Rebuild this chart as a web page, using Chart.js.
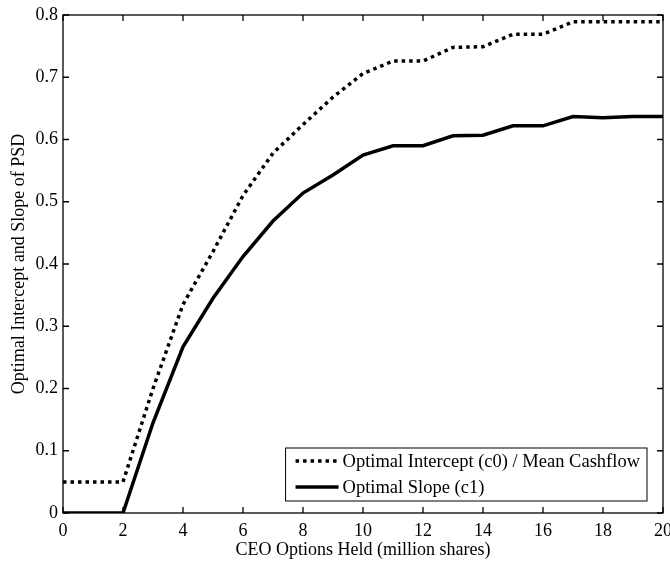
<!DOCTYPE html>
<html>
<head>
<meta charset="utf-8">
<script src="https://cdn.jsdelivr.net/npm/chart.js@4/dist/chart.umd.min.js"></script>
<style>
  html, body { margin: 0; padding: 0; background: #fff; }
  #wrap { width: 670px; height: 565px; }
</style>
</head>
<body>
<div id="wrap"><canvas id="psdChart" width="670" height="565"></canvas></div>
<script>
// options held, million shares
const optionsHeld = [0, 1, 2, 3, 4, 5, 6, 7, 8, 9, 10, 11, 12, 13, 14, 15, 16, 17, 18, 19, 20];
const interceptC0 = [0.05, 0.05, 0.05, 0.20, 0.335, 0.42, 0.51, 0.578, 0.624, 0.668, 0.706,
    0.726, 0.726, 0.748, 0.749, 0.769, 0.769, 0.789, 0.789, 0.789, 0.789];
const slopeC1 = [0, 0, 0, 0.145, 0.267, 0.345, 0.412, 0.469, 0.514, 0.543, 0.575,
    0.590, 0.590, 0.606, 0.607, 0.622, 0.622, 0.637, 0.635, 0.637, 0.637];
const seriesNames = ["Optimal Intercept (c0) / Mean Cashflow", "Optimal Slope (c1)"];
const xTitle = "CEO Options Held (million shares)";
const yTitle = "Optimal Intercept and Slope of PSD";

const FONT = "'Liberation Serif', 'Times New Roman', serif";

const toPoints = (ys) => optionsHeld.map((x, i) => ({ x, y: ys[i] }));

// matlab-ish box with inward ticks on all four sides
const boxTicks = {
    id: "boxTicks",
    afterDatasetsDraw(chart) {
        const { ctx, chartArea: a, scales } = chart;
        ctx.save();
        ctx.strokeStyle = "#000";
        ctx.lineWidth = 1.3;
        ctx.strokeRect(a.left, a.top, a.right - a.left, a.bottom - a.top);
        const len = 6;
        ctx.beginPath();
        scales.x.ticks.forEach((t) => {
            const px = scales.x.getPixelForValue(t.value);
            ctx.moveTo(px, a.bottom); ctx.lineTo(px, a.bottom - len);
            ctx.moveTo(px, a.top); ctx.lineTo(px, a.top + len);
        });
        scales.y.ticks.forEach((t) => {
            const py = scales.y.getPixelForValue(t.value);
            ctx.moveTo(a.left, py); ctx.lineTo(a.left + len, py);
            ctx.moveTo(a.right, py); ctx.lineTo(a.right - len, py);
        });
        ctx.stroke();
        ctx.restore();
    },
};

// legend box in the lower right corner of the plot
const boxLegend = {
    id: "boxLegend",
    afterDraw(chart) {
        const { ctx, chartArea: a } = chart;
        ctx.save();
        ctx.font = "18.5px " + FONT;
        const textW = Math.max(...chart.data.datasets.map((d) => ctx.measureText(d.label).width));
        const sample = 43, gap = 4, padL = 10, padR = 7, rowH = 26;
        const w = padL + sample + gap + textW + padR;
        const h = 53;
        const x0 = a.right - 16 - w;
        const y0 = a.bottom - 12 - h;
        ctx.fillStyle = "#fff";
        ctx.fillRect(x0, y0, w, h);
        ctx.strokeStyle = "#000";
        ctx.lineWidth = 1;
        ctx.strokeRect(x0, y0, w, h);
        chart.data.datasets.forEach((d, i) => {
            const cy = y0 + 13 + rowH * i;
            ctx.beginPath();
            ctx.lineWidth = d.borderWidth;
            ctx.setLineDash(d.borderDash || []);
            ctx.moveTo(x0 + padL, cy);
            ctx.lineTo(x0 + padL + sample, cy);
            ctx.stroke();
            ctx.setLineDash([]);
            ctx.fillStyle = "#000";
            ctx.textBaseline = "middle";
            ctx.fillText(d.label, x0 + padL + sample + gap, cy + 1);
        });
        ctx.restore();
    },
};

new Chart(document.getElementById("psdChart").getContext("2d"), {
    type: "line",
    data: {
        datasets: [
            {
                label: seriesNames[0],
                data: toPoints(interceptC0),
                borderColor: "#000",
                borderWidth: 3.5,
                borderDash: [3.5, 4],
                pointRadius: 0,
                tension: 0,
                fill: false,
            },
            {
                label: seriesNames[1],
                data: toPoints(slopeC1),
                borderColor: "#000",
                borderWidth: 3.5,
                pointRadius: 0,
                tension: 0,
                fill: false,
            },
        ],
    },
    options: {
        responsive: false,
        animation: false,
        layout: { padding: { left: 4, right: 7, top: 15, bottom: 0 } },
        plugins: { legend: { display: false }, tooltip: { enabled: false } },
        scales: {
            x: {
                type: "linear",
                min: 0,
                max: 20,
                border: { display: false },
                grid: { display: false, drawTicks: false },
                ticks: { stepSize: 2, color: "#000", padding: 7, maxRotation: 0, font: { family: FONT, size: 18 } },
                title: { display: true, text: xTitle, color: "#000", padding: { top: 0 }, font: { family: FONT, size: 18 } },
                afterFit: (s) => { s.height = 52; s.paddingLeft = 0; s.paddingRight = 0; },
            },
            y: {
                min: 0,
                max: 0.8,
                border: { display: false },
                grid: { display: false, drawTicks: false },
                ticks: {
                    stepSize: 0.1,
                    color: "#000",
                    padding: 5,
                    font: { family: FONT, size: 18 },
                    callback: (v) => String(+v.toFixed(1)),
                },
                title: { display: true, text: yTitle, color: "#000", padding: { bottom: 2 }, font: { family: FONT, size: 18 } },
                afterFit: (s) => { s.width = 59; s.paddingTop = 0; s.paddingBottom = 0; },
            },
        },
    },
    plugins: [boxTicks, boxLegend],
});
</script>
</body>
</html>
